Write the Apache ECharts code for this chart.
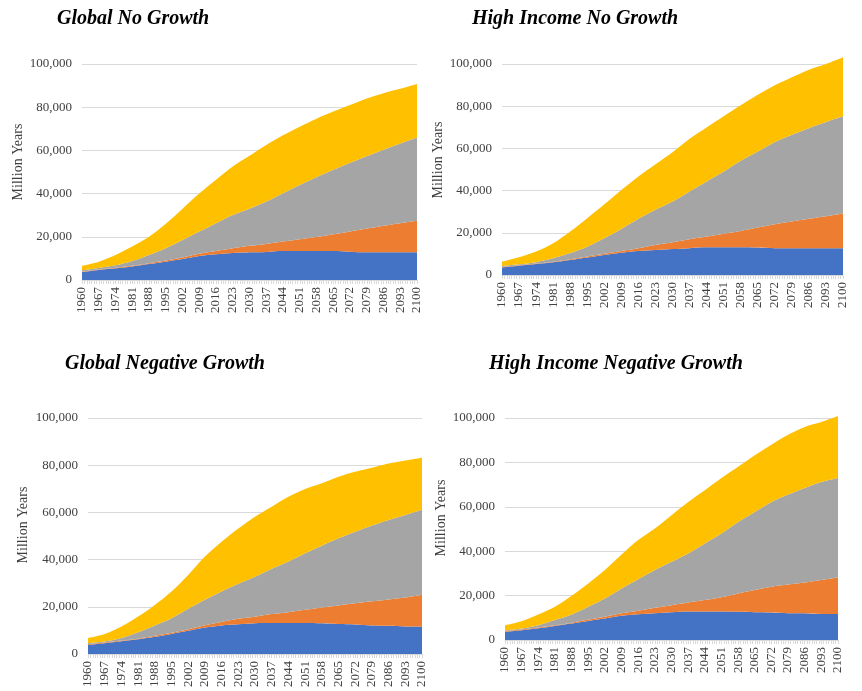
<!DOCTYPE html>
<html>
<head>
<meta charset="utf-8">
<script src="https://cdn.jsdelivr.net/npm/echarts/dist/echarts.min.js"></script>
<style>
html,body{margin:0;padding:0;background:#fff;}
#c{width:862px;height:691px;}
</style>
</head>
<body>
<div id="c"></div>
<script>
// ---- data (Million Years) ----
const years = ['1960','1967','1974','1981','1988','1995','2002','2009','2016','2023','2030','2037','2044','2051','2058','2065','2072','2079','2086','2093','2100'];
const seriesNames = ['Series 1','Series 2','Series 3','Series 4'];
const panelTitles = ['Global No Growth','High Income No Growth','Global Negative Growth','High Income Negative Growth'];
const yTickStep = 20000;
const yMax = 100000;

// Global No Growth
const gngBlue   = [3600,4600,5400,6300,7400,8500,9700,11100,11900,12500,12800,13000,13400,13400,13400,13400,13100,12800,12800,12800,12800];
const gngOrange = [300,300,300,300,400,500,700,1000,1500,2200,3000,3700,4400,5500,6500,7800,9400,11000,12300,13500,14600];
const gngGray   = [600,700,1100,2200,3800,5700,8100,10300,12900,15400,17200,19600,22400,25100,27700,29800,31800,33500,35200,36900,38600];
const gngYellow = [2100,2900,4800,6700,8400,11300,14500,17600,20100,22500,24500,26200,26800,27000,27100,27000,26700,26700,26200,25300,24700];

// High Income No Growth
const hngBlue   = [3600,4400,5200,6000,7100,8300,9500,10600,11400,11900,12300,12700,13100,13100,13100,13000,12700,12700,12700,12700,12700];
const hngOrange = [200,200,200,300,400,500,600,800,1300,2300,3200,4200,5100,6500,7800,9500,11400,12600,13900,15100,16400];
const hngGray   = [500,500,700,1600,2900,4600,7300,10400,13900,16700,19300,22700,26100,29400,33200,36000,38900,41200,43000,44700,46100];
const hngYellow = [2000,3300,5000,7100,10200,13500,16100,18500,20100,21600,23400,25000,25600,26200,26300,26900,26900,27200,27700,27500,28000];

// Global Negative Growth
const gngnBlue   = [3900,4600,5400,6200,7300,8500,9800,11200,12100,12600,13000,13100,13100,13100,13000,12700,12500,12100,12000,11700,11600];
const gngnOrange = [300,300,300,300,400,500,700,1000,1500,2300,2800,3800,4600,5600,6700,7900,9000,10200,11100,12200,13500];
const gngnGray   = [400,400,1100,2700,4400,6200,8700,10800,12900,14900,16900,19200,21500,24000,26200,28400,30300,32100,33700,35000,36000];
const gngnYellow = [2200,3200,4900,6700,8700,11300,14300,18300,21100,23400,25500,26300,27400,27200,26400,26100,25400,24500,23900,23100,22100];

// High Income Negative Growth
const hingBlue   = [3600,4400,5300,6300,7400,8600,9700,10900,11600,12100,12500,12800,12800,12800,12700,12500,12400,12100,12000,11700,11700];
const hingOrange = [300,300,300,300,400,600,800,1100,1600,2400,3200,4100,5200,6500,8300,10000,11600,12900,13900,15300,16400];
const hingGray   = [400,500,1100,2400,3700,5800,8200,11200,14200,17000,19500,22100,25500,28700,32200,35200,38200,40500,42600,44200,44900];
const hingYellow = [2400,3300,4800,6000,8400,10500,12800,15300,17600,18700,21000,23200,24000,25000,24800,25500,25800,27000,27500,27000,27900];

const panelData = [
  [gngBlue, gngOrange, gngGray, gngYellow],
  [hngBlue, hngOrange, hngGray, hngYellow],
  [gngnBlue, gngnOrange, gngnGray, gngnYellow],
  [hingBlue, hingOrange, hingGray, hingYellow]
];

// ---- layout / style ----
const colors = ['#4472C4','#ED7D31','#A5A5A5','#FFC000'];
const grids = [
  {left:82,  top:64,  width:335, height:216},
  {left:502, top:64,  width:341, height:211},
  {left:88,  top:418, width:334, height:236},
  {left:505, top:418, width:333, height:222}
];
const titlePos = [[52,4],[467,4],[60,349],[484,349]];
const yNamePos = [[18,162],[438,160],[23,525],[441,518]];
const serif = '"Liberation Serif","Times New Roman",serif';
const labelColor = '#404040';
const lineColor = '#d9d9d9';

function fmt(v){ return String(v).replace(/\B(?=(\d{3})+(?!\d))/g, ','); }

const xAxes = [];
grids.forEach((g,i)=>{
  // labelled category axis
  xAxes.push({
    type:'category', gridIndex:i, data:years, boundaryGap:false, position:'bottom',
    axisLine:{show:true, lineStyle:{color:lineColor, width:1}},
    axisTick:{show:false},
    splitLine:{show:false},
    axisLabel:{rotate:90, fontFamily:serif, fontSize:13, color:labelColor, margin:7, interval:0}
  });
});
grids.forEach((g,i)=>{
  // yearly tick marks (no labels)
  xAxes.push({
    type:'value', gridIndex:i, min:1960, max:2100, interval:7, position:'bottom', offset:0,
    axisLine:{show:false},
    axisTick:{show:true, length:4, lineStyle:{color:lineColor}},
    minorTick:{show:true, splitNumber:7, length:4, lineStyle:{color:lineColor}},
    splitLine:{show:false}, axisLabel:{show:false}
  });
});

const option = {
  animation:false,
  backgroundColor:'#fff',
  title: panelTitles.map((t,i)=>({
    text:t, left:titlePos[i][0], top:titlePos[i][1],
    textStyle:{fontFamily:serif, fontStyle:'italic', fontWeight:'bold', fontSize:20, color:'#000'}
  })),
  graphic: yNamePos.map(p=>({
    type:'text', x:p[0], y:p[1], rotation:Math.PI/2,
    style:{text:'Million Years', font:'14px '+serif, fill:labelColor, align:'center', verticalAlign:'middle'}
  })),
  grid: grids,
  xAxis: xAxes,
  yAxis: grids.map((g,i)=>({
    type:'value', gridIndex:i, min:0, max:yMax, interval:yTickStep,
    axisLine:{show:false}, axisTick:{show:false},
    splitLine:{show:true, lineStyle:{color:lineColor, width:1}},
    axisLabel:{fontFamily:serif, fontSize:13, color:labelColor, margin:10, formatter:v=>fmt(v)}
  })),
  series: []
};

panelData.forEach((arrs,i)=>{
  arrs.forEach((arr,k)=>{
    option.series.push({
      name:seriesNames[k], type:'line', stack:'p'+i,
      xAxisIndex:i, yAxisIndex:i,
      data: arr,
      symbol:'none', showSymbol:false, smooth:0.3, clip:false,
      lineStyle:{width:0, opacity:0},
      areaStyle:{color:colors[k], opacity:1},
      itemStyle:{color:colors[k]},
      z: 2
    });
  });
});

const chart = echarts.init(document.getElementById('c'), null, {renderer:'canvas'});
chart.setOption(option);
</script>
</body>
</html>
